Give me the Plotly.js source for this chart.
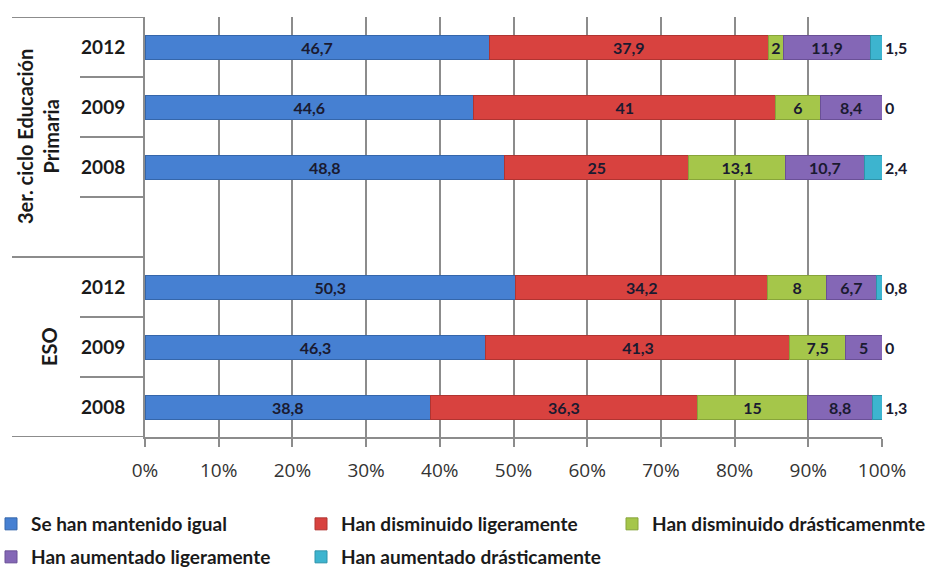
<!DOCTYPE html>
<html>
<head>
<meta charset="utf-8">
<script src="https://cdn.plot.ly/plotly-3.0.1.min.js"></script>
<style>html,body{margin:0;padding:0;background:#fff;}#chart{width:930px;height:568px;}</style>
</head>
<body>
<div id="chart"></div>
<script>
// Rows (bottom to top): ESO 2008, ESO 2009, ESO 2012, (gap), Primaria 2008, Primaria 2009, Primaria 2012
const rowPositions = [0, 1, 2, 4, 5, 6];
const yearLabels = ['2008', '2009', '2012', '2008', '2009', '2012'];
const groupLabels = ['ESO', '3er. ciclo Educación<br>Primaria'];
const groupCenters = [1, 4.5];

const seriesNames = [
  'Se han mantenido igual',
  'Han disminuido ligeramente',
  'Han disminuido drásticamenmte',
  'Han aumentado ligeramente',
  'Han aumentado drásticamente'
];
const mantenidoIgual      = [38.8, 46.3, 50.3, 48.8, 44.6, 46.7];
const disminuidoLigera    = [36.3, 41.3, 34.2, 25, 41, 37.9];
const disminuidoDrastica  = [15, 7.5, 8, 13.1, 6, 2];
const aumentadoLigera     = [8.8, 5, 6.7, 10.7, 8.4, 11.9];
const aumentadoDrastica   = [1.3, 0, 0.8, 2.4, 0, 1.5];

const xTickVals = [0,10,20,30,40,50,60,70,80,90,100];
const xTickText = xTickVals.map(v => v + '%');

const colors = ['#4680d2', '#d8423f', '#a5c64a', '#8467b6', '#3db4cf'];
const lineColors = ['#3566aa', '#b03431', '#87a43a', '#6a5096', '#2f93aa'];
const allSeries = [mantenidoIgual, disminuidoLigera, disminuidoDrastica, aumentadoLigera, aumentadoDrastica];

const fmt = v => String(v).replace('.', ',');
const labelFont = {family: 'Lato, sans-serif', size: 16, color: '#1a1a30', weight: 700};

const gray = '#8c8c8c';
const plotLeft = 145, plotW = 737, plotTop = 17, plotH = 420;
const px2paper = p => (p - plotLeft) / plotW;
const py2paper = p => (plotTop + plotH - p) / plotH;

// legend placement (left edge px, centre y px) for each series entry
const legendSpots = [[-9, 524], [301, 524], [612, 524], [-9, 557], [301, 557]];
const legendIds = ['legend', 'legend2', 'legend3', 'legend4', 'legend5'];

const traces = allSeries.map((vals, i) => ({
  type: 'bar',
  orientation: 'h',
  name: seriesNames[i],
  x: vals,
  y: rowPositions,
  text: vals.map(fmt),
  texttemplate: '%{text}',
  textposition: i === 4 ? 'outside' : 'inside',
  insidetextanchor: 'middle',
  textangle: 0,
  cliponaxis: false,
  textfont: labelFont,
  insidetextfont: labelFont,
  outsidetextfont: labelFont,
  marker: {color: colors[i], line: {color: lineColors[i], width: 1}},
  legend: legendIds[i],
  hoverinfo: 'skip'
}));

const shapes = [];
const boundaries = [-0.5, 0.5, 1.5, 2.5, 3.5, 4.5, 5.5, 6.5];
const longBoundaries = [-0.5, 2.5, 6.5];
boundaries.forEach(b => {
  const isLong = longBoundaries.includes(b);
  shapes.push({
    type: 'line', xref: 'paper', yref: 'y',
    x0: px2paper(isLong ? 12 : 80), x1: 0, y0: b, y1: b,
    line: {color: gray, width: 2}
  });
});

const annotations = groupLabels.map((t, i) => ({
  text: t, xref: 'paper', yref: 'y',
  x: px2paper(i === 0 ? 49 : 38), y: groupCenters[i],
  textangle: -90, showarrow: false,
  font: {family: 'Lato, sans-serif', size: 20, color: '#1a1a1a', weight: 700},
  xanchor: 'center', yanchor: 'middle', align: 'center'
}));

const layout = {
  width: 930, height: 568,
  margin: {l: 145, r: 48, t: 17, b: 131, autoexpand: false},
  paper_bgcolor: '#ffffff', plot_bgcolor: '#ffffff',
  barmode: 'stack', barnorm: 'percent', bargap: 0.6,
  showlegend: true,
  xaxis: {
    range: [0, 100], tickvals: xTickVals, ticktext: xTickText,
    showgrid: true, gridcolor: gray, gridwidth: 2,
    showline: true, linecolor: gray, linewidth: 2,
    ticks: 'outside', ticklen: 8, tickcolor: gray, tickwidth: 2,
    ticklabelstandoff: 7, automargin: false,
    tickfont: {family: 'Open Sans, sans-serif', size: 19, color: '#333333'},
    zeroline: false, fixedrange: true
  },
  yaxis: {
    range: [-0.5, 6.5], tickvals: rowPositions, ticktext: yearLabels,
    showgrid: false, zeroline: false,
    showline: true, linecolor: gray, linewidth: 2,
    ticks: '', ticklabelstandoff: 14, automargin: false,
    tickfont: {family: 'Lato, sans-serif', size: 19, color: '#1a1a1a', weight: 700},
    fixedrange: true
  },
  uniformtext: {mode: 'show', minsize: 16},
  shapes: shapes,
  annotations: annotations
};

legendIds.forEach((id, i) => {
  layout[id] = {
    orientation: 'h', xref: 'paper', yref: 'paper',
    x: px2paper(legendSpots[i][0]), y: py2paper(legendSpots[i][1]),
    xanchor: 'left', yanchor: 'middle',
    font: {family: 'Lato, sans-serif', size: 19, color: '#1a1a1a', weight: 700},
    bgcolor: 'rgba(0,0,0,0)'
  };
});

Plotly.newPlot('chart', traces, layout, {staticPlot: true, displayModeBar: false});
</script>
</body>
</html>
